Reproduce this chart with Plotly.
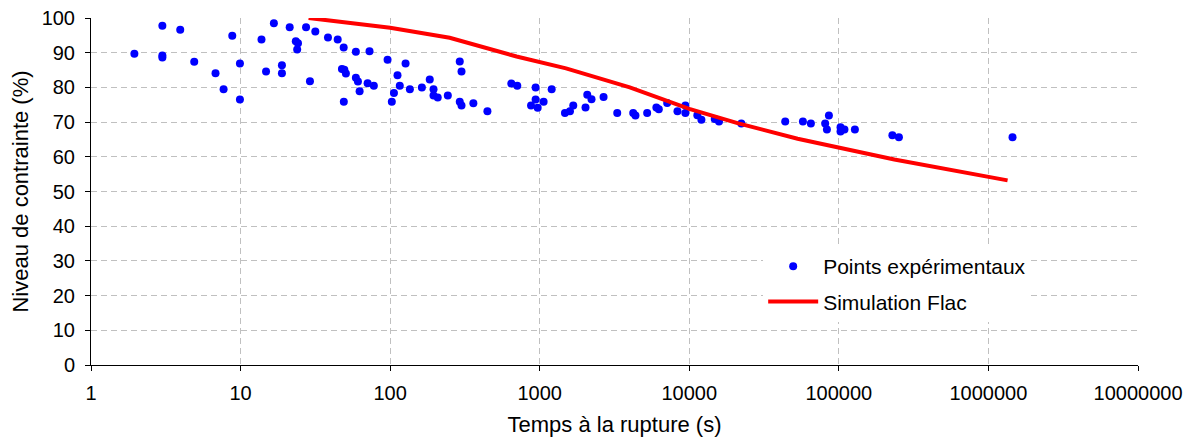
import plotly.graph_objects as go

# Experimental points: time to rupture (s), stress level (%)
exp_t = [3.0, 3.95, 9.9, 8.8, 1.95, 3.0, 3.0, 4.9, 9.9, 6.8, 14.8, 18.9, 18.9, 7.7, 9.9,
         13.8, 16.7, 21.3, 23.4, 24.2, 23.9, 27.4, 31.6, 29.1,
         38.4, 44.6, 48.9, 59, 72.8, 47.6, 49.4, 50.6, 49, 59, 60.9, 62.5, 70.7, 77.8,
         96.1, 126.8, 112, 116, 106, 102.6, 135.5, 163, 184, 195, 195, 208, 243,
         292, 300, 292, 300, 360, 447, 646, 708, 939, 939, 875, 969, 1062, 1202,
         1475, 1593, 1676, 2024, 2079, 2220, 2672, 3298, 4218, 4366, 5228, 6026, 6256,
         7116, 8337, 9418, 9418, 11320, 12050, 14800, 15800, 22280, 43800,
         57500, 65000, 81000, 85800, 83200, 102600, 102600, 109000, 128000,
         228000, 252000, 1449000]
exp_y = [97.8, 96.6, 100.2, 94.9, 89.7, 89.2, 88.6, 87.4, 86.9, 84.1, 84.6, 86.4, 84.1, 79.5, 76.5,
         93.8, 98.5, 97.3, 93.3, 92.7, 90.9, 97.3, 96.1, 81.8,
         94.4, 93.8, 91.5, 90.3, 90.4, 85.3, 85.1, 84.0, 75.9, 82.8, 81.7, 78.9, 81.2, 80.5,
         88.0, 86.9, 83.5, 80.5, 78.4, 75.9, 79.5, 80.0, 82.3, 79.5, 77.7, 77.1, 77.7,
         87.5, 84.6, 75.9, 74.8, 75.4, 73.1, 81.1, 80.5, 80.0, 76.5, 74.8, 74.1, 75.9, 79.5,
         72.6, 73.1, 74.8, 74.2, 77.9, 76.6, 77.2, 72.6, 72.6, 71.9, 72.6, 74.2, 73.7,
         75.5, 73.1, 74.8, 72.6, 72.0, 70.7, 70.9, 70.2, 69.6, 70.2,
         70.2, 69.6, 69.6, 71.9, 67.9, 68.5, 67.3, 67.9, 67.9,
         66.2, 65.6, 65.6]

# FLAC simulation curve
sim_t = [28.5, 100, 250, 700, 1500, 4000, 10000, 21000, 53000, 100000, 235000, 1343000]
sim_y = [100.0, 97.2, 94.3, 88.9, 85.5, 80.0, 73.8, 69.7, 65.2, 62.6, 59.2, 53.2]

x_tickvals = [1, 10, 100, 1000, 10000, 100000, 1000000, 10000000]
x_ticktext = ["1", "10", "100", "1000", "10000", "100000", "1000000", "10000000"]
y_tickvals = list(range(0, 101, 10))

fig = go.Figure()
fig.add_trace(go.Scatter(
    x=exp_t, y=exp_y, mode="markers", name="Points expérimentaux",
    legendgroup="a",
    marker=dict(color="#0000FF", size=8, line=dict(width=0)), cliponaxis=False))
fig.add_trace(go.Scatter(
    x=sim_t, y=sim_y, mode="lines", name="Simulation Flac",
    legendgroup="b",
    line=dict(color="#FF0000", width=4)))

font_family = "Liberation Sans, Arial, sans-serif"
grid = dict(showgrid=True, gridcolor="#C0C0C0", griddash="6px,4px", gridwidth=1,
            showline=True, linecolor="black", linewidth=1,
            ticks="outside", ticklen=5, tickcolor="black", zeroline=False,
            automargin=False, tickfont=dict(size=20), ticklabeloverflow="allow")
fig.update_layout(
    width=1186, height=433,
    margin=dict(l=83, r=56, t=10, b=76),
    paper_bgcolor="white", plot_bgcolor="white",
    font=dict(family=font_family, size=20, color="black"),
    showlegend=True,
    legend=dict(x=0.642, y=0.343, xanchor="left", yanchor="top",
                bgcolor="white", borderwidth=0, font=dict(size=21),
                traceorder="grouped", tracegroupgap=5, itemwidth=50),
    xaxis=dict(type="log", range=[0, 7], tickvals=x_tickvals, ticktext=x_ticktext,
               ticklabelstandoff=5,
               title=dict(text="Temps à la rupture (s)", standoff=13, font=dict(size=22)),
               **grid),
    yaxis=dict(range=[0, 100], tickvals=y_tickvals, ticklabelstandoff=6,
               title=dict(text="Niveau de contrainte (%)", standoff=10, font=dict(size=22)),
               **grid),
)

fig.write_html("out.html")
